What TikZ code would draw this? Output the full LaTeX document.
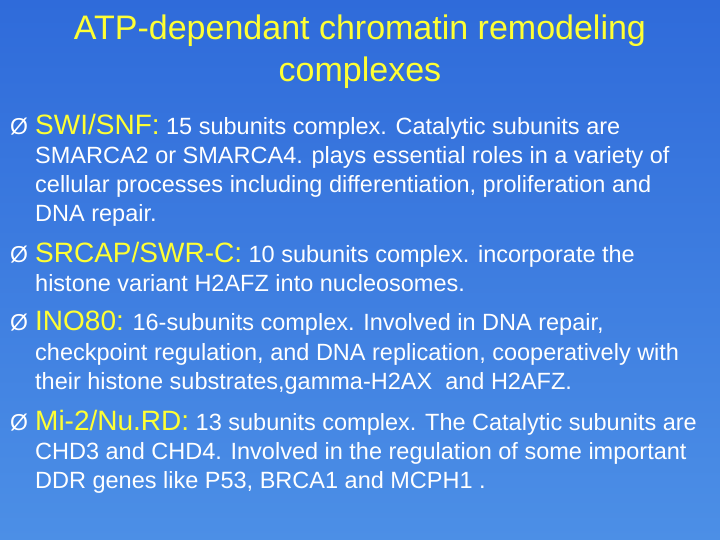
\documentclass[tikz,border=0pt]{standalone}
\usepackage{fontspec}
\setmainfont{Liberation Sans}
\definecolor{ttl}{HTML}{FFFF33}
\definecolor{kw}{HTML}{FFFF33}
\definecolor{bgtop}{HTML}{2F6BDA}
\definecolor{bgbot}{HTML}{4C8FE6}
\begin{document}
\begin{tikzpicture}[x=1pt,y=-1pt,
  ln/.style={anchor=base west,inner sep=0,text=white,font=\fontsize{23.5}{28}\selectfont},
  bul/.style={anchor=base west,inner sep=0,text=white,font=\fontsize{23}{28}\selectfont}]
\shade[top color=bgtop,bottom color=bgbot] (0,0) rectangle (720,540);
\useasboundingbox (0,0) rectangle (720,540);
\node[text=ttl,font=\fontsize{34}{40}\selectfont,inner sep=0] (t1) at (360,31) {ATP-dependant chromatin remodeling};
\node[text=ttl,font=\fontsize{34}{40}\selectfont,inner sep=0] (t2) at (360,73) {complexes};
% bullet 1
\node[bul] (b1) at (10,135) {Ø};
\node[ln] (l1a) at (35,135) {{\fontsize{28}{32}\selectfont\color{kw}SWI/SNF:} 15 subunits complex. Catalytic subunits are};
\node[ln] (l1b) at (35,164) {SMARCA2 or SMARCA4. plays essential roles in a variety of};
\node[ln] (l1c) at (35,193) {cellular processes including differentiation, proliferation and};
\node[ln] (l1d) at (35,222) {DNA repair.};
% bullet 2
\node[bul] (b2) at (10,262) {Ø};
\node[ln] (l2a) at (35,262) {{\fontsize{28}{32}\selectfont\color{kw}SRCAP/SWR-C:} 10 subunits complex. incorporate the};
\node[ln] (l2b) at (35,291) {histone variant H2AFZ into nucleosomes.};
% bullet 3
\node[bul] (b3) at (10,330) {Ø};
\node[ln] (l3a) at (35,330) {{\fontsize{28}{32}\selectfont\color{kw}INO80:} 16-subunits complex. Involved in DNA repair,};
\node[ln] (l3b) at (35,360) {checkpoint regulation, and DNA replication, cooperatively with};
\node[ln] (l3c) at (35,389) {their histone substrates,gamma-H2AX\ \ and H2AFZ.};
% bullet 4
\node[bul] (b4) at (10,430) {Ø};
\node[ln] (l4a) at (35,430) {{\fontsize{28}{32}\selectfont\color{kw}Mi-2/Nu.RD:} 13 subunits complex. The Catalytic subunits are};
\node[ln] (l4b) at (35,459) {CHD3 and CHD4. Involved in the regulation of some important};
\node[ln] (l4c) at (35,488) {DDR genes like P53, BRCA1 and MCPH1 .};
\end{tikzpicture}
\end{document}
